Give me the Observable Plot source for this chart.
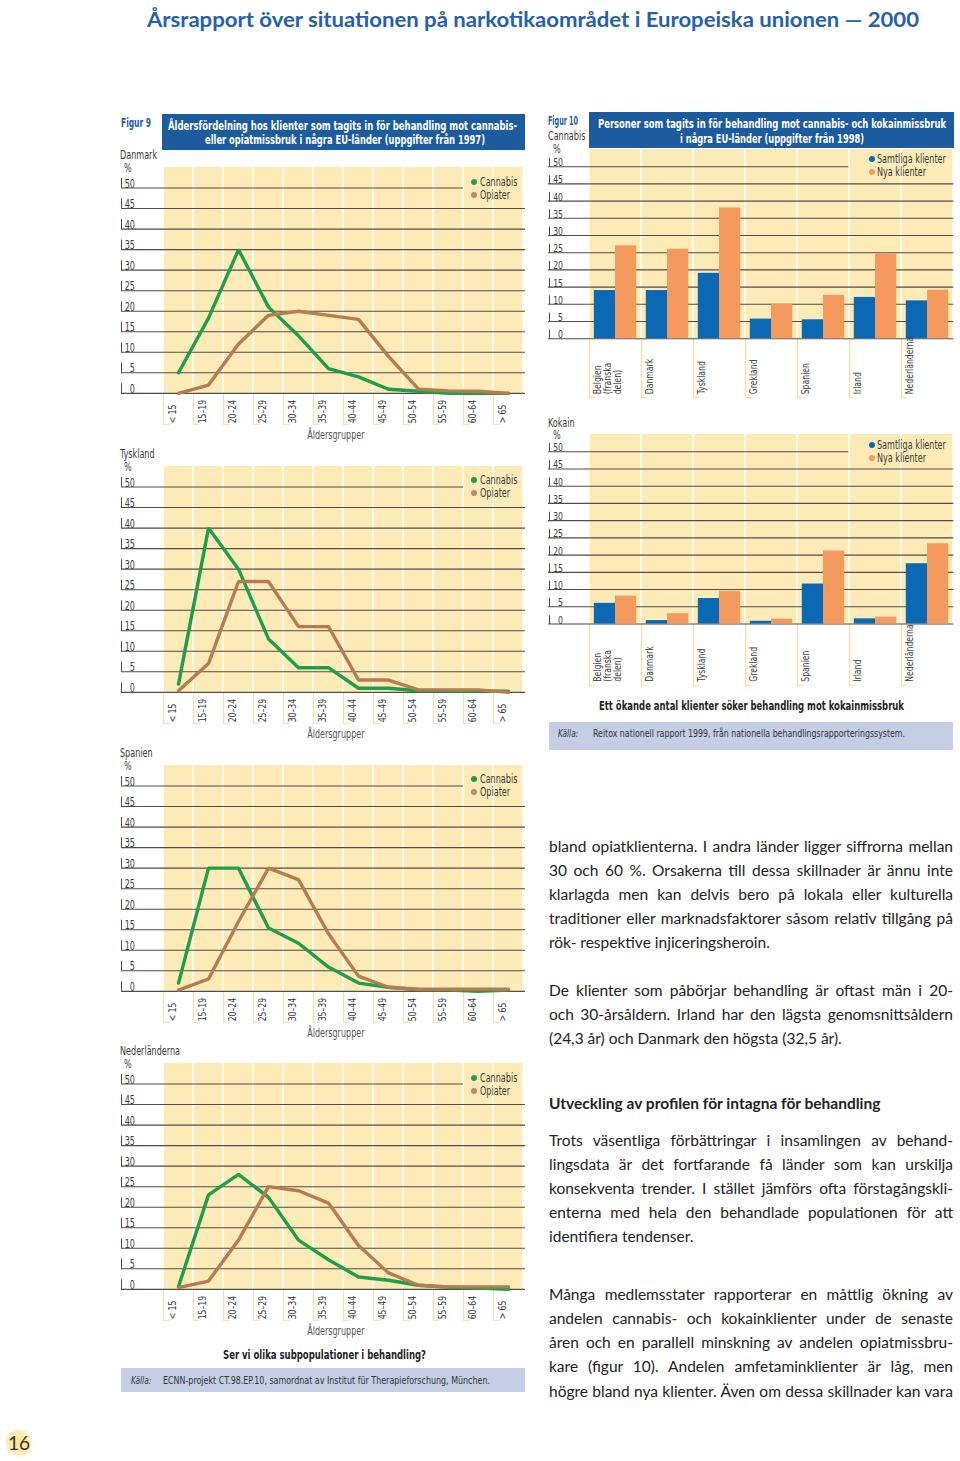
<!DOCTYPE html>
<html><head><meta charset="utf-8">
<script src="https://cdn.jsdelivr.net/npm/d3@7"></script>
<script src="https://cdn.jsdelivr.net/npm/@observablehq/plot@0.6"></script>
<style>
html,body{margin:0;padding:0;background:#fff;}
#page{position:relative;width:960px;height:1461px;overflow:hidden;}
.abs{position:absolute;white-space:nowrap;}
</style></head><body><div id="page"></div>
<script>
// ---------------- data ----------------
const ageGroups = ["< 15","15–19","20–24","25–29","30–34","35–39","40–44","45–49","50–54","55–59","60–64","> 65"];
const yTicks = [0,5,10,15,20,25,30,35,40,45,50];
const panels9 = ["Danmark","Tyskland","Spanien","Nederländerna"];
const seriesNames9 = ["Cannabis","Opiater"];
const danmarkCannabis = [5,18.3,35,21,14,6,4,1,0.5,0,0,0];
const danmarkOpiater = [0,2,12,19,20,19,18,9,1,0.6,0.5,0];
const tysklandCannabis = [2,40,30,13,6,6,1,1,0.4,0.3,0.3,0.3];
const tysklandOpiater = [0.4,7,27,27,16,16,3,3,0.6,0.6,0.6,0];
const spanienCannabis = [2,30,30,15.4,11.7,5.9,2,1,0.4,0.3,0,0.3];
const spanienOpiater = [0.3,3,17,30,27.2,14,3.7,1,0.5,0.5,0.5,0.5];
const nederlandernaCannabis = [0.7,23,28,22.4,12,7.2,3,2.2,1,0.5,0.3,0];
const nederlandernaOpiater = [0.4,2,12,25,24,21,10.7,4,1,0.6,0.6,0.6];

const countries10 = ["Belgien\n(franska\ndelen)","Danmark","Tyskland","Grekland","Spanien","Irland","Nederländerna"];
const seriesNames10 = ["Samtliga klienter","Nya klienter"];
const cannabisSamtliga = [14,14,19,5.7,5.5,12,11];
const cannabisNya = [27,26,38,10,12.6,24.7,14.1];
const kokainSamtliga = [6,1,7.4,0.8,11.6,1.5,17.5];
const kokainNya = [8.1,3,9.5,1.4,21.2,2,23.3];

const pageTitle = "Årsrapport över situationen på narkotikaområdet i Europeiska unionen — 2000";
const fig9Title = ["Åldersfördelning hos klienter som tagits in för behandling mot cannabis-","eller opiatmissbruk i några EU-länder (uppgifter från 1997)"];
const fig10Title = ["Personer som tagits in för behandling mot cannabis- och kokainmissbruk","i några EU-länder (uppgifter från 1998)"];
const para1 = ["bland opiatklienterna. I andra länder ligger siffrorna mellan","30 och 60 %. Orsakerna till dessa skillnader är ännu inte","klarlagda men kan delvis bero på lokala eller kulturella","traditioner eller marknadsfaktorer såsom relativ tillgång på","rök- respektive injiceringsheroin."];
const para2 = ["De klienter som påbörjar behandling är oftast män i 20-","och 30-årsåldern. Irland har den lägsta genomsnittsåldern","(24,3 år) och Danmark den högsta (32,5 år)."];
const heading = "Utveckling av profilen för intagna för behandling";
const para3 = ["Trots väsentliga förbättringar i insamlingen av behand-","lingsdata är det fortfarande få länder som kan urskilja","konsekventa trender. I stället jämförs ofta förstagångskli-","enterna med hela den behandlade populationen för att","identifiera tendenser."];
const para4 = ["Många medlemsstater rapporterar en måttlig ökning av","andelen cannabis- och kokainklienter under de senaste","åren och en parallell minskning av andelen opiatmissbru-","kare (figur 10). Andelen amfetaminklienter är låg, men","högre bland nya klienter. Även om dessa skillnader kan vara"];

// ---------------- styles ----------------
const FN = '"Liberation Sans Narrow","DejaVu Sans Condensed","Arial Narrow",sans-serif';
const BODY = 'Lato,"Open Sans",sans-serif';
const YEL="#fdebb7", TYEL="#f6dfa0", GRID="#4d4d4d", GREEN="#1e9d4b", BROWN="#b77b50",
      BLUE="#0b69b4", ORANGE="#f59a5e", NAVY="#1c5b9e", TXT="#3a3a3a", SRC="#c4cee5";
const SQ = 0.78; // horizontal squeeze to mimic a condensed face

const page = document.getElementById("page");
function place(node, x, y){ const d=document.createElement("div"); d.style.position="absolute"; d.style.left=x+"px"; d.style.top=y+"px"; d.appendChild(node); page.appendChild(d); return d; }
function box(x,y,w,h,bg){ const d=document.createElement("div"); Object.assign(d.style,{position:"absolute",left:x+"px",top:y+"px",width:w+"px",height:h+"px",background:bg}); page.appendChild(d); return d; }
function label(txt, o){
  const el=document.createElement("div"); el.className="abs"; el.textContent=txt;
  const lh = Math.round(o.size*1.0);
  const fam = o.family||FN;
  Object.assign(el.style,{fontSize:o.size+"px",lineHeight:lh+"px",top:(o.y-lh/2)+"px",color:o.color||TXT,
    fontWeight:o.weight||400,fontStyle:o.italic?"italic":"normal",fontFamily:fam,left:"0px"});
  page.appendChild(el);
  const w = el.getBoundingClientRect().width;
  const sx = o.fit ? o.fit/w : (fam===FN ? SQ : 1), ww = w*sx;
  const left = o.anchor==="middle" ? o.x-ww/2 : o.anchor==="end" ? o.x-ww : o.x;
  el.style.left = left+"px"; el.style.transformOrigin="0 50%";
  if (sx!==1) el.style.transform=`scaleX(${sx})`;
  return el;
}
function dot(x,y,r,c){ const d=document.createElement("div"); Object.assign(d.style,{position:"absolute",left:(x-r)+"px",top:(y-r)+"px",width:2*r+"px",height:2*r+"px",borderRadius:"50%",background:c}); page.appendChild(d); }
function squeeze(svg, f){
  svg.querySelectorAll("text").forEach(t=>{
    const tr = t.getAttribute("transform");
    if (tr) t.setAttribute("transform", tr+` scale(${f},1)`);
    else { const x=+t.getAttribute("x")||0, y=+t.getAttribute("y")||0;
      t.setAttribute("transform",`translate(${x},${y}) scale(${f},1) translate(${-x},${-y})`); }
  });
}

// ---------------- page header ----------------
label(pageTitle,{x:147,y:18,size:21,weight:700,color:"#2560a9",family:BODY,fit:772});

// ---------------- Figure 9 ----------------
label("Figur 9",{x:121,y:123,size:11.5,weight:700,color:NAVY,fit:30});
box(161.7,114,363.8,36,NAVY);
label(fig9Title[0],{x:342.5,y:125.5,size:11.5,weight:700,color:"#fff",anchor:"middle",fit:349});
label(fig9Title[1],{x:345,y:140,size:11.5,weight:700,color:"#fff",anchor:"middle",fit:280});

const series9 = [[danmarkCannabis,danmarkOpiater],[tysklandCannabis,tysklandOpiater],[spanienCannabis,spanienOpiater],[nederlandernaCannabis,nederlandernaOpiater]];

function linePanel(i){
  const zero = 393.3 + i*298.6;
  const unit = 4.106, ml = 46.7, mr = 10, mt = 6, mb = 56, W = 420;
  const fh = 55*unit, fw = W-ml-mr, bw = fw/ageGroups.length;
  const rows = ageGroups.map((a,k)=>({age:a, cannabis:series9[i][0][k], opiater:series9[i][1][k]}));
  const svg = Plot.plot({
    width:W, height:mt+fh+mb, marginLeft:ml, marginRight:mr, marginTop:mt, marginBottom:mb,
    x:{type:"band", domain:ageGroups, padding:0, axis:null},
    y:{domain:[0,55], axis:null},
    style:{fontFamily:FN, background:"transparent", overflow:"visible"},
    marks:[
      Plot.cell(ageGroups,{x:d=>d, fill:YEL, insetLeft:0.7, insetRight:0.7}),
      Plot.cell(ageGroups,{x:d=>d, fill:TYEL, insetRight:bw-1.3, insetTop:fh, insetBottom:-32}),
      Plot.cell(ageGroups,{x:d=>d, fill:TYEL, insetRight:bw-7, insetTop:fh+31, insetBottom:-32}),
      Plot.ruleY(yTicks.filter(t=>t!==50),{y:d=>d, stroke:GRID, strokeWidth:1.1, insetLeft:-(ml-6)}),
      Plot.ruleY([50],{y:d=>d, stroke:GRID, strokeWidth:1.1, insetLeft:-(ml-6), insetRight:62}),
      Plot.ruleY(yTicks,{y:d=>d, stroke:GRID, strokeWidth:10, dy:-5, insetLeft:-(ml-6), insetRight:fw+(ml-6)-1}),
      Plot.text(yTicks,{y:d=>d, text:d=>String(d), frameAnchor:"left", textAnchor:"end", lineAnchor:"bottom", dx:-27.2, dy:-0.5, fontSize:11.5, fill:TXT}),
      Plot.line(rows,{x:"age", y:"cannabis", stroke:GREEN, strokeWidth:3.4, strokeLinejoin:"miter"}),
      Plot.line(rows,{x:"age", y:"opiater", stroke:BROWN, strokeWidth:3.4, strokeLinejoin:"miter"}),
      Plot.text(ageGroups,{x:d=>d, text:d=>d, frameAnchor:"bottom", rotate:-90, textAnchor:"start", lineAnchor:"top", dx:-bw/2+5, dy:30, fontSize:11, fill:TXT}),
      Plot.text(["Åldersgrupper"],{frameAnchor:"bottom", dx:-8, dy:46, fontSize:11.5, fill:"#555"})
    ]
  });
  place(svg, 115, zero-fh-mt);
  squeeze(svg, SQ);
  label(panels9[i],{x:120,y:zero-238,size:11.5});
  label("%",{x:124,y:zero-225,size:11.5});
  dot(474.3,zero-211.6,3,GREEN); dot(474.3,zero-198.6,3,"#c08a60");
  label(seriesNames9[0],{x:479.5,y:zero-211.6,size:11.5});
  label(seriesNames9[1],{x:479.5,y:zero-198.6,size:11.5});
}
for (let i=0;i<4;i++) linePanel(i);

label("Ser vi olika subpopulationer i behandling?",{x:324.3,y:1354,size:12.5,weight:700,color:"#222",anchor:"middle",fit:203});
box(121,1368,404,24,SRC);
label("Källa:",{x:130.5,y:1380,size:10.5,italic:true,color:"#333"});
label("ECNN-projekt CT.98.EP.10, samordnat av  Institut für Therapieforschung, München.",{x:163.3,y:1380,size:10.5,color:"#333",fit:327});

// ---------------- Figure 10 ----------------
label("Figur 10",{x:548,y:120.5,size:11.5,weight:700,color:NAVY,fit:30});
box(588.5,112,365,36,NAVY);
label(fig10Title[0],{x:772,y:124,size:11.5,weight:700,color:"#fff",anchor:"middle",fit:348});
label(fig10Title[1],{x:772,y:139,size:11.5,weight:700,color:"#fff",anchor:"middle",fit:184});

function barPanel(name, samtliga, nya, zero, unit, labDy, boxDy){
  const ml = 49.3, mr = 6.7, W = 420, mt = 6, mb = 66;
  const fh = 55*unit, fw = W-ml-mr, bw = fw/countries10.length;
  const rowsS = countries10.map((c,k)=>({country:c, value:samtliga[k]}));
  const rowsN = countries10.map((c,k)=>({country:c, value:nya[k]}));
  const svg = Plot.plot({
    width:W, height:mt+fh+mb, marginLeft:ml, marginRight:mr, marginTop:mt, marginBottom:mb,
    x:{type:"band", domain:countries10, padding:0, axis:null},
    y:{domain:[0,55], axis:null},
    style:{fontFamily:FN, background:"transparent", overflow:"visible"},
    marks:[
      Plot.cell(countries10,{x:d=>d, fill:YEL, insetLeft:0.7, insetRight:0.7}),
      Plot.cell(countries10,{x:d=>d, fill:TYEL, insetRight:bw-1.3, insetTop:fh, insetBottom:-boxDy}),
      Plot.cell(countries10,{x:d=>d, fill:TYEL, insetRight:bw-6, insetTop:fh+boxDy-1, insetBottom:-boxDy}),
      Plot.ruleY(yTicks.filter(t=>t!==50),{y:d=>d, stroke:GRID, strokeWidth:1.1, insetLeft:-(ml-8)}),
      Plot.ruleY([50],{y:d=>d, stroke:GRID, strokeWidth:1.1, insetLeft:-(ml-8), insetRight:105}),
      Plot.ruleY(yTicks,{y:d=>d, stroke:GRID, strokeWidth:9, dy:-4.5, insetLeft:-(ml-9), insetRight:fw+(ml-9)-1}),
      Plot.text(yTicks,{y:d=>d, text:d=>String(d), frameAnchor:"left", textAnchor:"end", lineAnchor:"bottom", dx:-26.8, dy:-0.5, fontSize:11, fill:TXT}),
      Plot.barY(rowsS,{x:"country", y:"value", fill:BLUE, insetLeft:4.8, insetRight:26}),
      Plot.barY(rowsN,{x:"country", y:"value", fill:ORANGE, insetLeft:26, insetRight:4.8}),
      Plot.text(countries10,{x:d=>d, text:d=>d, frameAnchor:"bottom", rotate:-90, textAnchor:"start", lineAnchor:"top", dx:-bw/2+4.5, dy:labDy, fontSize:11, lineHeight:0.9, fill:TXT})
    ]
  });
  place(svg, 540, zero-fh-mt);
  squeeze(svg, SQ);
  label(name,{x:548,y:zero-201.5,size:11.5});
  label("%",{x:553,y:zero-189,size:11.5});
  dot(871.7,zero-178.8,3,BLUE); dot(871.7,zero-165.9,3,ORANGE);
  label(seriesNames10[0],{x:877,y:zero-178.8,size:11.5});
  label(seriesNames10[1],{x:877,y:zero-165.9,size:11.5});
}
barPanel("Cannabis", cannabisSamtliga, cannabisNya, 337.7, 3.44, 55.6, 60);
barPanel("Kokain", kokainSamtliga, kokainNya, 624, 3.446, 57.7, 62.7);

label("Ett ökande antal klienter söker behandling mot kokainmissbruk",{x:751.7,y:705,size:12.5,weight:700,color:"#222",anchor:"middle",fit:305});
box(549.3,721.7,404,28.3,SRC);
label("Källa:",{x:558.3,y:733,size:10.5,italic:true,color:"#333"});
label("Reitox nationell rapport 1999, från nationella behandlingsrapporteringssystem.",{x:592.7,y:733,size:10.5,color:"#333",fit:312});

// ---------------- body text ----------------
function bodyLine(txt, y, justify, bold){
  const el=document.createElement("div"); el.textContent=txt;
  Object.assign(el.style,{position:"absolute",left:"549px",top:(y-12)+"px",height:"24px",lineHeight:"24px",
    fontFamily:BODY,fontSize:"15.5px",fontWeight:bold?700:400,color:"#222",whiteSpace:"nowrap"});
  page.appendChild(el);
  const w = el.getBoundingClientRect().width;
  if (w > 404.5){ el.style.transformOrigin="0 50%"; el.style.transform=`scaleX(${404/w})`; }
  else if (justify){ Object.assign(el.style,{whiteSpace:"normal",width:"404px",textAlign:"justify",textAlignLast:"justify"}); }
}
function para(lines, y0, lastJustified){
  lines.forEach((t,k)=>bodyLine(t, y0+k*24.05, k<lines.length-1 || lastJustified, false));
}
para(para1, 846, false);
para(para2, 990, false);
bodyLine(heading, 1103.3, false, true);
para(para3, 1140, false);
para(para4, 1294.3, true);

// ---------------- page number ----------------
const g=document.createElement("div");
Object.assign(g.style,{position:"absolute",left:"4px",top:"1428px",width:"30px",height:"30px",borderRadius:"50%",
  background:"radial-gradient(circle, #fbe38e 0%, #fdeeb9 55%, rgba(255,255,255,0) 72%)"});
page.appendChild(g);
label("16",{x:19,y:1442,size:19,family:BODY,color:"#333",anchor:"middle"});
</script></body></html>
